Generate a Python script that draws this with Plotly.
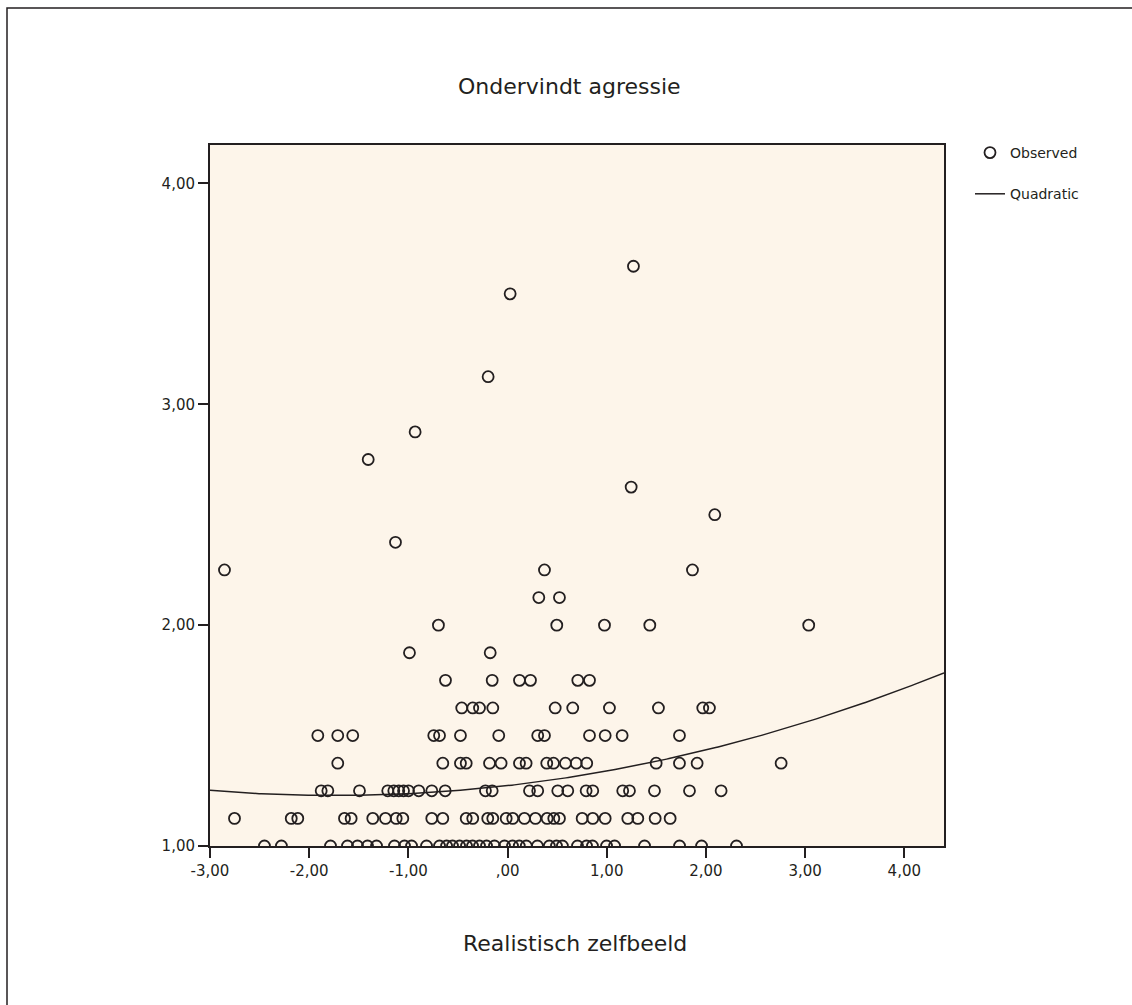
import numpy as np
import plotly.graph_objects as go

# Realistisch zelfbeeld (x) grouped by Ondervindt agressie score (y)
score_levels = [1.0, 1.125, 1.25, 1.375, 1.5, 1.625, 1.75, 1.875, 2.0, 2.125,
                2.25, 2.375, 2.5, 2.625, 2.75, 2.875, 3.125, 3.5, 3.625]

x_at_1000 = [-2.451, -2.280, -1.785, -1.614, -1.513, -1.412, -1.321, -1.140, -1.039,
             -0.968, -0.817, -0.686, -0.615, -0.555, -0.484, -0.414, -0.353, -0.283,
             -0.212, -0.132, -0.031, 0.050, 0.118, 0.189, 0.301, 0.421, 0.493, 0.553,
             0.705, 0.796, 0.856, 0.998, 1.079, 1.381, 1.734, 1.956, 2.308]
x_at_1125 = [-2.753, -2.181, -2.115, -1.644, -1.577, -1.359, -1.231, -1.123, -1.056,
             -0.764, -0.653, -0.417, -0.351, -0.200, -0.149, -0.014, 0.052, 0.170,
             0.281, 0.399, 0.466, 0.523, 0.752, 0.859, 0.984, 1.212, 1.313, 1.488, 1.639]
x_at_1250 = [-1.879, -1.812, -1.493, -1.208, -1.147, -1.097, -1.049, -0.999, -0.895,
             -0.764, -0.629, -0.223, -0.155, 0.221, 0.304, 0.506, 0.607, 0.792, 0.859,
             1.161, 1.229, 1.481, 1.834, 2.153]
x_at_1375 = [-1.712, -0.653, -0.475, -0.417, -0.182, -0.065, 0.120, 0.187, 0.395,
             0.463, 0.584, 0.692, 0.798, 1.498, 1.733, 1.911, 2.758]
x_at_1500 = [-1.913, -1.712, -1.561, -0.744, -0.686, -0.475, -0.089, 0.304, 0.372,
             0.826, 0.984, 1.155, 1.733]
x_at_1625 = [-0.462, -0.351, -0.283, -0.149, 0.480, 0.657, 1.027, 1.521, 1.968, 2.035]
x_at_1750 = [-0.626, -0.155, 0.120, 0.231, 0.708, 0.826]
x_at_1875 = [-0.989, -0.175]
x_at_2000 = [-0.697, 0.496, 0.977, 1.434, 3.036]
x_at_2125 = [0.315, 0.523]
x_at_2250 = [-2.854, 0.372, 1.864]
x_at_2375 = [-1.130]
x_at_2500 = [2.089]
x_at_2625 = [1.246]
x_at_2750 = [-1.405]
x_at_2875 = [-0.932]
x_at_3125 = [-0.196]
x_at_3500 = [0.026]
x_at_3625 = [1.269]

x_rows = [x_at_1000, x_at_1125, x_at_1250, x_at_1375, x_at_1500, x_at_1625,
          x_at_1750, x_at_1875, x_at_2000, x_at_2125, x_at_2250, x_at_2375,
          x_at_2500, x_at_2625, x_at_2750, x_at_2875, x_at_3125, x_at_3500, x_at_3625]

# Quadratic fit: b0 + b1*x + b2*x^2
quad_coef = [1.2732, 0.0513, 0.01473]

x_ticks = [-3, -2, -1, 0, 1, 2, 3, 4]
x_ticktext = ["-3,00", "-2,00", "-1,00", ",00", "1,00", "2,00", "3,00", "4,00"]
y_ticks = [1, 2, 3, 4]
y_ticktext = ["1,00", "2,00", "3,00", "4,00"]

obs_x = [v for row in x_rows for v in row]
obs_y = [lvl for lvl, row in zip(score_levels, x_rows) for _ in row]

X_RANGE = [-3.0, 4.4]
Y_RANGE = [1.0, 4.174]

curve_x = np.linspace(X_RANGE[0], X_RANGE[1], 300)
curve_y = quad_coef[0] + quad_coef[1] * curve_x + quad_coef[2] * curve_x ** 2

INK = "#231f20"
FONT = "DejaVu Sans"

W, H = 1132, 1005
L, R, T, B = 210, 188, 145, 159
pw, ph = W - L - R, H - T - B


def px_to_paper_x(px):
    return (px - L) / pw


def py_to_paper_y(py):
    return (H - B - py) / ph


fig = go.Figure()
fig.add_trace(go.Scatter(
    x=obs_x, y=obs_y, mode="markers", name="Observed", legendgroup="obs",
    marker=dict(symbol="circle-open", size=11, color=INK, line=dict(width=1.8, color=INK)),
))
fig.add_trace(go.Scatter(
    x=curve_x, y=curve_y, mode="lines", name="Quadratic", legendgroup="quad",
    line=dict(color=INK, width=1.5),
))

axis_common = dict(
    showline=True, linewidth=2, linecolor=INK, mirror=True,
    ticks="outside", ticklen=10, tickwidth=2, tickcolor=INK,
    showgrid=False, zeroline=False,
    tickfont=dict(family=FONT, size=15, color=INK),
)

fig.update_layout(
    width=W, height=H,
    margin=dict(l=L, r=R, t=T, b=B, pad=0),
    paper_bgcolor="white",
    plot_bgcolor="#fdf5ea",
    font=dict(family=FONT, color=INK),
    xaxis=dict(range=X_RANGE, tickvals=x_ticks, ticktext=x_ticktext, **axis_common),
    yaxis=dict(range=Y_RANGE, tickvals=y_ticks, ticktext=y_ticktext, **axis_common),
    showlegend=True,
    legend=dict(
        x=px_to_paper_x(970), y=py_to_paper_y(137), xanchor="left", yanchor="top",
        bgcolor="rgba(0,0,0,0)", font=dict(family=FONT, size=14, color=INK),
        itemwidth=30, tracegroupgap=20,
    ),
    annotations=[
        dict(text="Ondervindt agressie", xref="paper", yref="paper",
             x=px_to_paper_x(569), y=py_to_paper_y(87), xanchor="center", yanchor="middle",
             showarrow=False, font=dict(family=FONT, size=22, color=INK)),
        dict(text="Realistisch zelfbeeld", xref="paper", yref="paper",
             x=px_to_paper_x(575), y=py_to_paper_y(943), xanchor="center", yanchor="middle",
             showarrow=False, font=dict(family=FONT, size=22, color=INK)),
    ],
    shapes=[
        dict(type="rect", xref="paper", yref="paper", layer="below",
             x0=px_to_paper_x(7), x1=px_to_paper_x(1145),
             y0=py_to_paper_y(1020), y1=py_to_paper_y(8),
             line=dict(color=INK, width=1.5), fillcolor="rgba(0,0,0,0)"),
    ],
)

fig.write_html("out.html")
